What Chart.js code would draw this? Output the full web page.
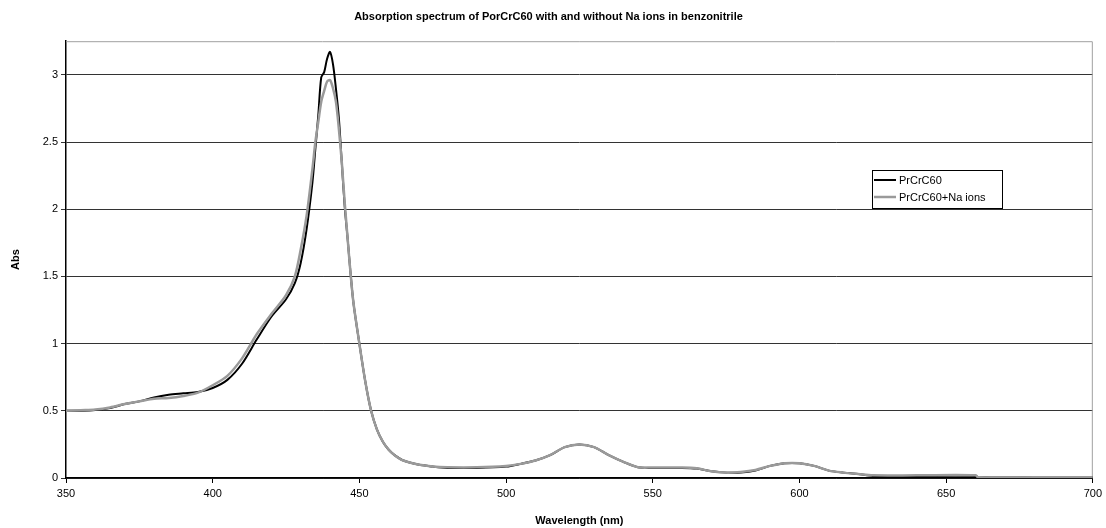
<!DOCTYPE html>
<html>
<head>
<meta charset="utf-8">
<script src="https://cdn.jsdelivr.net/npm/chart.js@4.4.1/dist/chart.umd.min.js"></script>
<style>
  html, body { margin: 0; padding: 0; background: #fff; }
  #wrap { width: 1106px; height: 528px; position: relative; }
</style>
</head>
<body>
<div id="wrap"><canvas id="spectrum"></canvas></div>
<script>
// Wavelengths (nm) shared by both series
const wavelengths = [350, 355, 360, 365, 370, 375, 380, 385, 390, 395, 400, 405, 410, 415, 420, 425, 428, 430, 432, 434,
    435, 436, 437, 438, 439, 440, 441, 442, 443, 444, 445, 446, 447, 448, 450, 452, 454, 456, 458, 460,
    462, 465, 470, 475, 480, 490, 500, 505, 510, 515, 520, 525, 530, 535, 540, 545, 550, 560, 565, 570,
    575, 580, 585, 590, 595, 600, 605, 610, 615, 620, 625, 640, 660, 661, 680, 700];

// PrCrC60 absorbance
const absPlain = [0.50, 0.50, 0.505, 0.52, 0.55, 0.57, 0.60, 0.62, 0.63, 0.64, 0.67, 0.73, 0.85, 1.03, 1.20, 1.33, 1.45, 1.60, 1.85, 2.20,
    2.45, 2.70, 2.98, 3.02, 3.12, 3.17, 3.08, 2.90, 2.68, 2.35, 2.02, 1.78, 1.52, 1.30, 1.00, 0.72, 0.50, 0.36, 0.27, 0.21,
    0.17, 0.13, 0.10, 0.085, 0.075, 0.075, 0.085, 0.105, 0.13, 0.17, 0.23, 0.25, 0.23, 0.17, 0.12, 0.08, 0.075, 0.075, 0.07, 0.05,
    0.04, 0.04, 0.055, 0.09, 0.11, 0.11, 0.09, 0.055, 0.04, 0.03, 0.015, 0.015, 0.015, 0.005, 0.005, 0.005];

// PrCrC60 + Na ions absorbance
const absNa = [0.50, 0.505, 0.51, 0.525, 0.55, 0.57, 0.59, 0.595, 0.61, 0.635, 0.69, 0.76, 0.89, 1.07, 1.22, 1.36, 1.50, 1.70, 1.95, 2.30,
    2.50, 2.65, 2.80, 2.88, 2.95, 2.96, 2.90, 2.80, 2.60, 2.35, 2.05, 1.78, 1.52, 1.30, 1.00, 0.72, 0.50, 0.36, 0.27, 0.21,
    0.17, 0.13, 0.10, 0.085, 0.08, 0.08, 0.09, 0.105, 0.13, 0.17, 0.23, 0.25, 0.23, 0.17, 0.12, 0.08, 0.078, 0.078, 0.072, 0.05,
    0.04, 0.045, 0.06, 0.09, 0.11, 0.11, 0.09, 0.055, 0.04, 0.03, 0.02, 0.02, 0.02, 0.005, 0.005, 0.005];

const seriesNames = ['PrCrC60', 'PrCrC60+Na ions'];
const yTicks = [0, 0.5, 1, 1.5, 2, 2.5, 3];
const xTicks = [350, 400, 450, 500, 550, 600, 650, 700];

const toPoints = (ys) => wavelengths.map((x, i) => ({ x: x, y: ys[i] }));

// Gray frame on top/right plus the legend box
const framePlugin = {
    id: 'frame',
    beforeDatasetsDraw(chart) {
        const { ctx, chartArea: a } = chart;
        ctx.save();
        ctx.strokeStyle = '#a0a0a0';
        ctx.lineWidth = 1;
        ctx.beginPath();
        ctx.moveTo(a.left, a.top + 0.5);
        ctx.lineTo(a.right - 0.5, a.top + 0.5);
        ctx.lineTo(a.right - 0.5, a.bottom);
        ctx.stroke();
        ctx.restore();
    },
    afterDraw(chart) {
        const ctx = chart.ctx;
        const x0 = 872, y0 = 170, w = 130, h = 38;
        ctx.save();
        ctx.fillStyle = '#fff';
        ctx.fillRect(x0, y0, w, h);
        ctx.strokeStyle = '#000';
        ctx.lineWidth = 1;
        ctx.strokeRect(x0 + 0.5, y0 + 0.5, w, h);
        ctx.font = '11px "Liberation Sans", Arial, sans-serif';
        ctx.textBaseline = 'middle';
        chart.data.datasets.forEach((ds, i) => {
            const yy = y0 + 10 + i * 17;
            ctx.strokeStyle = ds.borderColor;
            ctx.lineWidth = ds.borderWidth;
            ctx.beginPath();
            ctx.moveTo(x0 + 2, yy);
            ctx.lineTo(x0 + 24, yy);
            ctx.stroke();
            ctx.fillStyle = '#000';
            ctx.fillText(ds.label, x0 + 27, yy + 1);
        });
        ctx.restore();
    }
};

const ctx = document.getElementById('spectrum').getContext('2d');
const spectrumChart = new Chart(ctx, {
    type: 'line',
    data: {
        datasets: [{
            label: seriesNames[0],
            data: toPoints(absPlain),
            borderColor: '#000000',
            borderWidth: 2,
            pointRadius: 0,
            tension: 0.3,
            order: 2
        }, {
            label: seriesNames[1],
            data: toPoints(absNa),
            borderColor: '#9a9a9a',
            borderWidth: 2.5,
            pointRadius: 0,
            tension: 0.3,
            order: 1
        }]
    },
    options: {
        responsive: true,
        maintainAspectRatio: false,
        animation: false,
        layout: { padding: { left: 0, right: 9, top: 0, bottom: 0 } },
        plugins: {
            legend: { display: false },
            tooltip: { enabled: false },
            title: {
                display: true,
                text: 'Absorption spectrum of PorCrC60 with and without Na ions in benzonitrile',
                color: '#000',
                font: { family: '"Liberation Sans", Arial, sans-serif', size: 11, weight: 'bold' },
                padding: { top: 10, bottom: 18 }
            }
        },
        scales: {
            x: {
                type: 'linear',
                min: 350,
                max: 700,
                afterBuildTicks: (scale) => { scale.ticks = xTicks.map(v => ({ value: v })); },
                afterFit: (scale) => { scale.height = 50; },
                border: { color: '#000', width: 1.5 },
                grid: { drawOnChartArea: false, color: '#000', tickLength: 5 },
                ticks: {
                    color: '#000',
                    padding: 4,
                    maxRotation: 0,
                    font: { family: '"Liberation Sans", Arial, sans-serif', size: 11 }
                },
                title: {
                    display: true,
                    text: 'Wavelength (nm)',
                    color: '#000',
                    padding: { top: 4, bottom: 0 },
                    font: { family: '"Liberation Sans", Arial, sans-serif', size: 11, weight: 'bold' }
                }
            },
            y: {
                min: 0,
                max: 3.25,
                afterBuildTicks: (scale) => { scale.ticks = yTicks.map(v => ({ value: v })); },
                afterFit: (scale) => { scale.width = 66; },
                border: { color: '#000', width: 1.5 },
                grid: { color: '#333', lineWidth: 1, tickLength: 5 },
                ticks: {
                    color: '#000',
                    padding: 3,
                    callback: (v) => String(v),
                    font: { family: '"Liberation Sans", Arial, sans-serif', size: 11 }
                },
                title: {
                    display: true,
                    text: 'Abs',
                    color: '#000',
                    padding: { top: 9, bottom: 10 },
                    font: { family: '"Liberation Sans", Arial, sans-serif', size: 11, weight: 'bold' }
                }
            }
        }
    },
    plugins: [framePlugin]
});
</script>
</body>
</html>
